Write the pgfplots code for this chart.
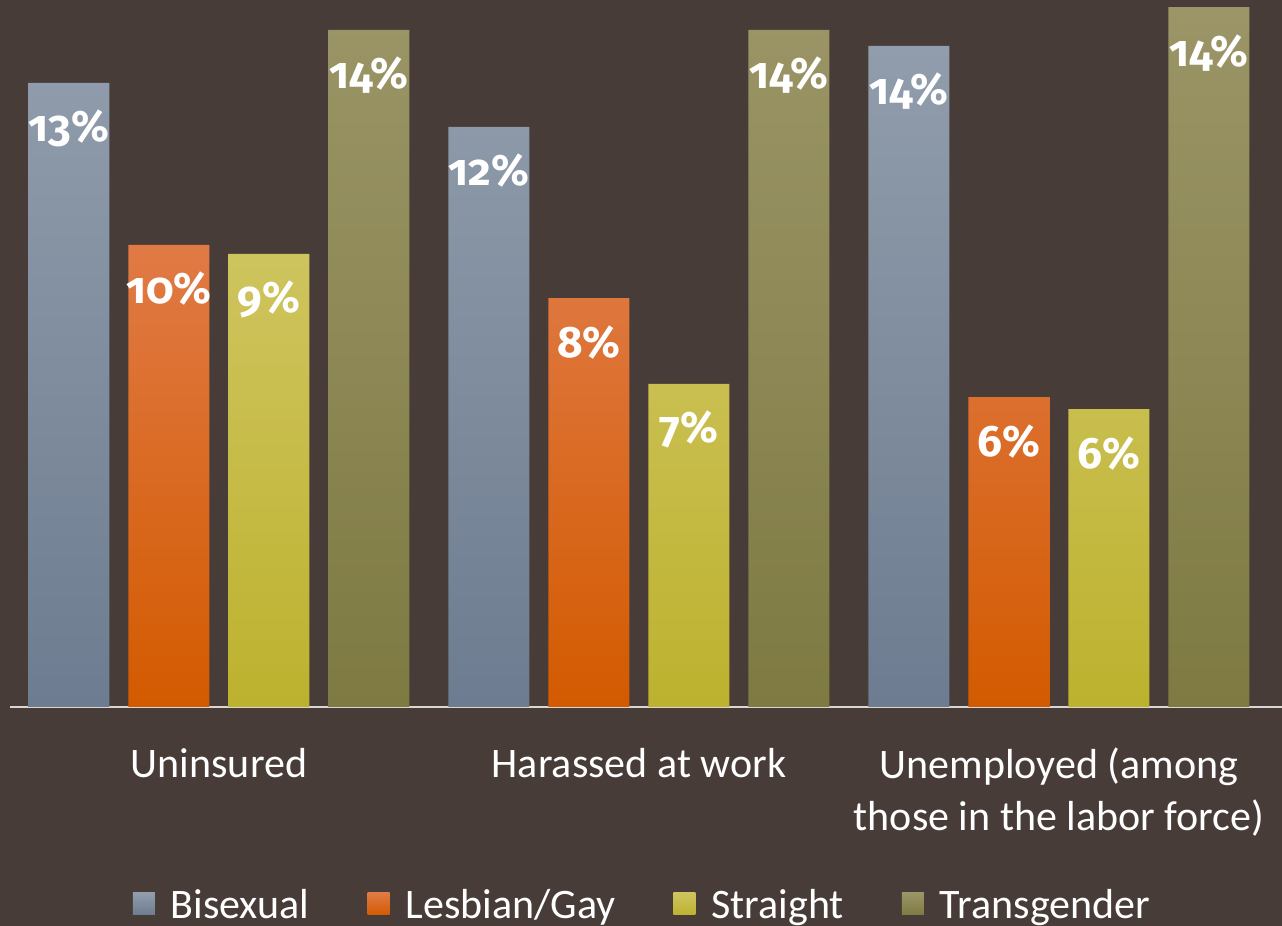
\documentclass[border=0pt]{standalone}
\usepackage{fontspec}
\setmainfont{Carlito}
\newfontfamily\numfont[Numbers=OldStyle]{Fira Sans}
\usepackage{pgfplots}
\pgfplotsset{compat=1.18}

\definecolor{bg}{HTML}{473C38}
\definecolor{biTop}{HTML}{919DAC}
\definecolor{biBot}{HTML}{6D7C90}
\definecolor{lgTop}{HTML}{E07A45}
\definecolor{lgBot}{HTML}{D35A00}
\definecolor{stTop}{HTML}{CEC45E}
\definecolor{stBot}{HTML}{BDB22E}
\definecolor{trTop}{HTML}{9B9567}
\definecolor{trBot}{HTML}{7E7A42}
\definecolor{baseln}{HTML}{DAD6D2}

\begin{document}
\begin{tikzpicture}
\fill[bg,use as bounding box] (0,0) rectangle (641pt,463pt);
\begin{axis}[
    at={(5pt,109.5pt)}, anchor=south west,
    scale only axis, width=636pt, height=353.5pt,
    ybar=9.5pt, bar width=40.5pt,
    xmin=-0.4976, xmax=2.531, ymin=0, ymax=14.577,
    axis y line=none, axis x line*=bottom,
    x axis line style={draw=baseln, line width=1.1pt, -},
    xtick={0,1,2}, major tick length=0pt,
    xticklabels={Uninsured,Harassed at work,{Unemployed (among\\those in the labor force)}},
    xticklabel style={align=center, text=white, anchor=north, yshift=-17pt,
        font=\fontsize{21}{26}\selectfont},
    clip=false,
    point meta=explicit symbolic,
    nodes near coords,
    nodes near coords style={text=white, anchor=base, yshift=-29.5pt,
        font=\numfont\bfseries\fontsize{22}{26}\selectfont},
    every axis plot post/.append style={draw=none,
        legend image code/.code={\path[##1,draw=none] (0pt,-5pt) rectangle (11pt,6pt);}},
    legend style={at={(rel axis cs:0.498,-0.28)}, anchor=center, draw=none, fill=none,
        text=white, font=\fontsize{21}{25}\selectfont,
        /tikz/every odd column/.append style={column sep=6pt},
        /tikz/every even column/.append style={column sep=27pt}},
    legend columns=4,
]
\addplot[top color=biTop, bottom color=biBot] coordinates {(0,12.87) [13\%] (1,11.96) [12\%] (2,13.63) [14\%]};
\addplot[top color=lgTop, bottom color=lgBot] coordinates {(0,9.53) [10\%] (1,8.43) [8\%] (2,6.39) [6\%]};
\addplot[top color=stTop, bottom color=stBot] coordinates {(0,9.34) [9\%] (1,6.66) [7\%] (2,6.14) [6\%]};
\addplot[top color=trTop, bottom color=trBot] coordinates {(0,13.96) [14\%] (1,13.96) [14\%] (2,14.43) [14\%]};
\legend{Bisexual,Lesbian/Gay,Straight,Transgender}
\end{axis}
\end{tikzpicture}
\end{document}
